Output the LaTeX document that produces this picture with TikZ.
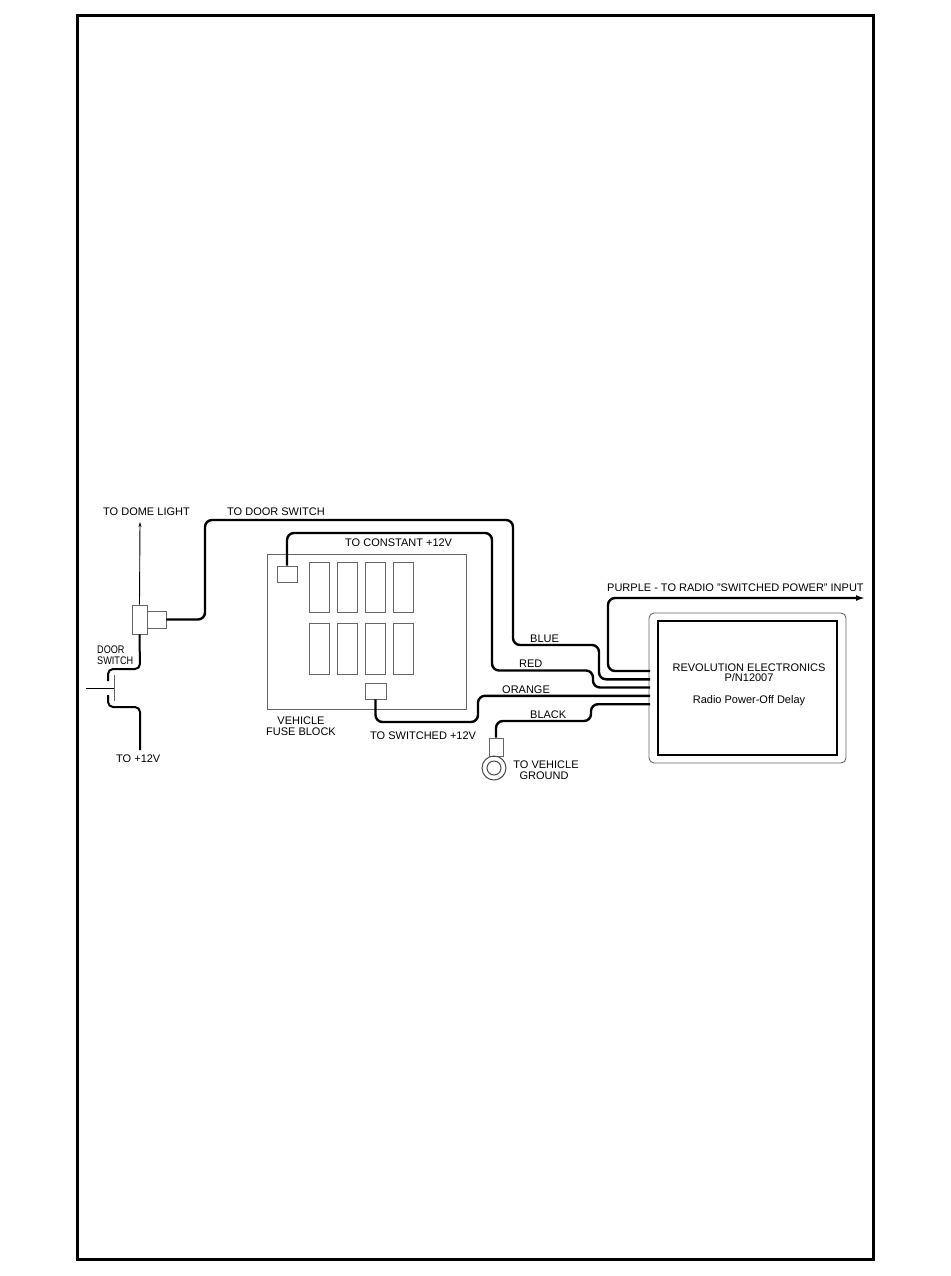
\documentclass[tikz,border=0pt]{standalone}
\usepackage{fontspec}
\setmainfont{Liberation Sans}
\usetikzlibrary{arrows.meta}
\begin{document}
\begin{tikzpicture}[x=1pt,y=-1pt,
  wire/.style={line width=2.4pt, rounded corners=7pt},
  swire/.style={line width=2pt, rounded corners=5pt},
  thinline/.style={line width=0.9pt},
  gbox/.style={draw=black!60, line width=0.9pt, inner sep=0pt, rectangle},
  lbl/.style={inner sep=0pt, anchor=base west, font=\fontsize{11}{12}\selectfont},
  clbl/.style={inner sep=0pt, anchor=base, font=\fontsize{11}{12}\selectfont},
]
\useasboundingbox (0,0) rectangle (950,1276);
\draw[line width=3pt] (77.5,15.5) rectangle (873.5,1259.5);

% door switch connector
\node[gbox, minimum width=15pt, minimum height=29pt] (conn) at (139.5,619.5) {};
\node[gbox, minimum width=19pt, minimum height=17pt] (tab) at (156.5,619.5) {};
\coordinate (dome) at (140,522);
\draw[thinline, -{Stealth[length=5pt,width=3pt]}] (conn.north) -- (dome);

% door switch
\coordinate (sw1) at (108,681);
\coordinate (sw2) at (108,695);
\coordinate (plus) at (140,750);
\draw[swire] (conn.south) -- (140,669) -- (108,669) -- (sw1);
\draw[swire] (sw2) -- (108,707) -- (140,707) -- (plus);
\coordinate (ct) at (114,675);
\coordinate (cb) at (114,701);
\coordinate (lever) at (86,688);
\draw[draw=black!60, line width=1pt] (ct) -- (cb);
\draw[line width=0.9pt] (lever) -- (114,688);

% fuse block
\node[gbox, minimum width=199pt, minimum height=155pt] (fb) at (366.5,631.5) {};
\node[gbox, minimum width=20pt, minimum height=16pt] (tfuse) at (287,574) {};
\node[gbox, minimum width=21pt, minimum height=16pt] (bfuse) at (375.5,691) {};
\foreach \i/\x in {1/319,2/347,3/375,4/403}{
  \node[gbox, minimum width=20pt, minimum height=50pt] (ft\i) at (\x,587) {};
  \node[gbox, minimum width=20pt, minimum height=51pt] (fl\i) at (\x,648.5) {};
}

% module
\node[draw=black!60, line width=0.9pt, rounded corners=5pt, minimum width=197pt, minimum height=150pt, inner sep=0pt] (modout) at (747.5,688) {};
\node[draw, line width=1.6pt, minimum width=179pt, minimum height=134pt, inner sep=0pt] (modin) at (747.5,688) {};
\coordinate (pinP) at (650,671);
\coordinate (pinB) at (650,679.3);
\coordinate (pinR) at (650,687.5);
\coordinate (pinO) at (650,695.8);
\coordinate (pinK) at (650,704.2);
\coordinate (radio) at (865,598);

% ground
\node[gbox, minimum width=14pt, minimum height=18pt] (gterm) at (496,747) {};
\node[draw=black!70, line width=1pt, circle, minimum size=24pt, inner sep=0pt] (gring) at (494,768) {};
\node[draw=black!70, line width=1pt, circle, minimum size=14pt, inner sep=0pt] (ghole) at (494,768) {};

% wires
\draw[wire] (tab.east) -- (205,619.5) -- (205,520) -- (513,520) -- (513,645) -- (599,645) -- (599,679.3) -- (pinB);
\draw[wire] (tfuse.north) -- (287,533) -- (492,533) -- (492,670.5) -- (593,670.5) -- (593,687.5) -- (pinR);
\draw[wire] (bfuse.south) -- (375.5,722) -- (478,722) -- (478,695.8) -- (pinO);
\draw[wire] (pinK) -- (591,704.2) -- (591,721) -- (496,721) -- (gterm.north);
\draw[wire, -{Latex[length=9pt,width=6pt]}] (pinP) -- (608,671) -- (608,598) -- (radio);

% labels
\node[lbl] (tdl) at (103,515) {TO DOME LIGHT};
\node[lbl] (tds) at (227,515) {TO DOOR SWITCH};
\node[lbl] (tc) at (345,546) {TO CONSTANT +12V};
\node[lbl] (ds1) at (97,653) {\scalebox{0.83}[1]{DOOR}};
\node[lbl] (ds2) at (97,664) {\scalebox{0.83}[1]{SWITCH}};
\node[lbl] (t12) at (116,762) {TO +12V};
\node[clbl] (vfb1) at (301,724) {VEHICLE};
\node[clbl] (vfb2) at (301,735) {FUSE BLOCK};
\node[lbl] (tsw) at (370,739) {TO SWITCHED +12V};
\node[lbl] (lb) at (530,642) {BLUE};
\node[lbl] (lr) at (519,667) {RED};
\node[lbl] (lo) at (502,693) {ORANGE};
\node[lbl] (lk) at (530,718) {BLACK};
\node[clbl] (tvg1) at (546,768) {TO VEHICLE};
\node[clbl] (tvg2) at (544,779) {GROUND};
\node[lbl] (lp) at (607,591) {PURPLE - TO RADIO "SWITCHED POWER" INPUT};
\node[clbl] (m1) at (749,671) {REVOLUTION ELECTRONICS};
\node[clbl] (m2) at (749,681) {P/N12007};
\node[clbl] (m3) at (749,703) {Radio Power-Off Delay};
\end{tikzpicture}
\end{document}
